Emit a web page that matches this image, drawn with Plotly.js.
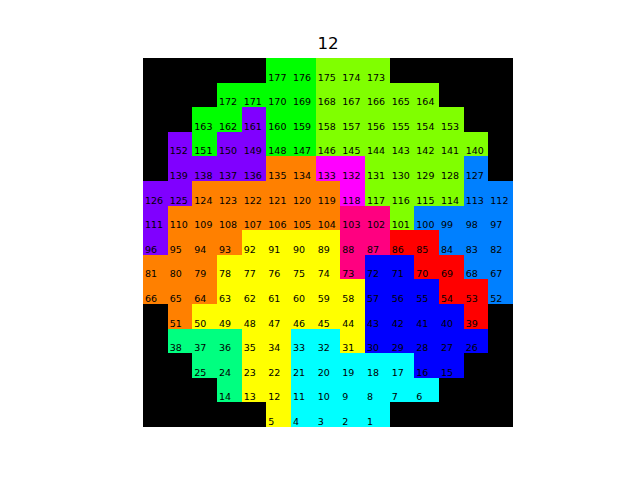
<!DOCTYPE html>
<html>
<head>
<meta charset="utf-8">
<script src="https://cdn.plot.ly/plotly-3.0.1.min.js"></script>
<style>html,body{margin:0;padding:0;background:#fff;}#chart{width:640px;height:480px;}</style>
</head>
<body>
<div id="chart"></div>
<script>
// Region code per cell (rows top to bottom, columns left to right)
// K black, R red, O orange, Y yellow, L lime, G green, S spring green,
// C cyan, A azure, B blue, P purple, M magenta, N rose
const regionRows = [
  "KKKKKGGLLLKKKKK",
  "KKKGGGGLLLLLKKK",
  "KKGGPGGLLLLLLKK",
  "KPGPPGGLLLLLLLK",
  "KPPPPOOMMLLLLAK",
  "PPOOOOOOMLLLLAA",
  "POOOOOOONNLAAAA",
  "POOOYYYYNNRRAAA",
  "OOOYYYYYNBBRRAA",
  "OOOYYYYYYBBBRRA",
  "KOYYYYYYYBBBBRK",
  "KSSSYYCCYBBBBBK",
  "KKSSYYCCCCCBBKK",
  "KKKSYYCCCCCCKKK",
  "KKKKKYCCCCKKKKK"
];

// Cell labels (null = no label)
const labelRows = [
  [null,null,null,null,null,177,176,175,174,173,null,null,null,null,null],
  [null,null,null,172,171,170,169,168,167,166,165,164,null,null,null],
  [null,null,163,162,161,160,159,158,157,156,155,154,153,null,null],
  [null,152,151,150,149,148,147,146,145,144,143,142,141,140,null],
  [null,139,138,137,136,135,134,133,132,131,130,129,128,127,null],
  [126,125,124,123,122,121,120,119,118,117,116,115,114,113,112],
  [111,110,109,108,107,106,105,104,103,102,101,100,99,98,97],
  [96,95,94,93,92,91,90,89,88,87,86,85,84,83,82],
  [81,80,79,78,77,76,75,74,73,72,71,70,69,68,67],
  [66,65,64,63,62,61,60,59,58,57,56,55,54,53,52],
  [null,51,50,49,48,47,46,45,44,43,42,41,40,39,null],
  [null,38,37,36,35,34,33,32,31,30,29,28,27,26,null],
  [null,null,25,24,23,22,21,20,19,18,17,16,15,null,null],
  [null,null,null,14,13,12,11,10,9,8,7,6,null,null,null],
  [null,null,null,null,null,5,4,3,2,1,null,null,null,null,null]
];

const codes = ["K","R","O","Y","L","G","S","C","A","B","P","M","N"];
const codeColors = ["#000000","#ff0000","#ff8000","#ffff00","#80ff00","#00ff00","#00ff80",
                    "#00ffff","#0080ff","#0000ff","#8000ff","#ff00ff","#ff0080"];
const titleText = "12";

const nC = codes.length;
const colorscale = [];
codeColors.forEach((c, i) => {
  colorscale.push([i / nC, c]);
  colorscale.push([(i + 1) / nC, c]);
});

const z = regionRows.map(r => r.split("").map(ch => codes.indexOf(ch)));

const tx = [], ty = [], tt = [];
labelRows.forEach((row, r) => {
  row.forEach((v, c) => {
    if (v !== null) { tx.push(c - 0.42); ty.push(r + 0.32); tt.push(String(v)); }
  });
});

const heat = {
  type: "heatmap",
  z: z,
  colorscale: colorscale,
  zmin: -0.5,
  zmax: nC - 0.5,
  showscale: false,
  hoverinfo: "skip"
};

const labels = {
  type: "scatter",
  mode: "text",
  x: tx,
  y: ty,
  text: tt,
  textposition: "middle right",
  textfont: {family: "DejaVu Sans", size: 9.5, color: "#000000"},
  hoverinfo: "skip",
  showlegend: false
};

const axisCommon = {showgrid: false, zeroline: false, showticklabels: false, ticks: "", showline: false};

const layout = {
  width: 640, height: 480,
  margin: {l: 143, r: 127, t: 58, b: 53},
  paper_bgcolor: "#ffffff",
  plot_bgcolor: "#ffffff",
  showlegend: false,
  title: {
    text: titleText,
    font: {family: "DejaVu Sans", size: 16.7, color: "#000000"},
    x: 0.5125, xref: "container", xanchor: "center",
    y: 1 - 43 / 480, yref: "container", yanchor: "middle"
  },
  xaxis: Object.assign({range: [-0.5, 14.5]}, axisCommon),
  yaxis: Object.assign({range: [14.5, -0.5]}, axisCommon)
};

Plotly.newPlot("chart", [heat, labels], layout, {staticPlot: true, displayModeBar: false});
</script>
</body>
</html>
